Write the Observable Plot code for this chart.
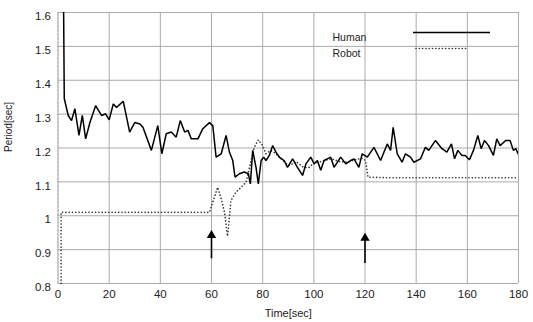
<!DOCTYPE html>
<html>
<head>
<meta charset="utf-8">
<script src="https://cdn.jsdelivr.net/npm/d3@7"></script>
<script src="https://cdn.jsdelivr.net/npm/@observablehq/plot@0.6"></script>
<style>
  html, body { margin: 0; padding: 0; background: #fff; }
  #chart { position: relative; width: 533px; height: 322px; }
  svg { font-family: "Liberation Sans", Arial, Helvetica, sans-serif; }
</style>
</head>
<body>
<div id="chart"></div>
<script>
// ---- data ----
const humanTime = [2.2, 2.45, 4.0, 5.3, 6.6, 8.2, 9.5, 10.8, 12.5, 14.7, 17.0, 18.6, 20.0, 21.6, 22.9, 25.5, 26.8, 28.0, 30.0, 32.0, 33.2, 36.5, 39.0, 40.6, 42.3, 44.3, 46.2, 47.8, 49.5, 50.8, 52.1, 54.7, 56.6, 59.2, 60.5, 61.8, 63.8, 65.7, 67.0, 68.3, 69.2, 70.9, 72.8, 74.4, 75.2, 76.1, 77.4, 78.3, 79.4, 80.4, 81.3, 82.6, 83.9, 85.2, 86.5, 88.4, 89.7, 91.7, 93.6, 95.6, 96.9, 98.8, 100.1, 101.4, 102.7, 104.0, 105.3, 106.6, 107.9, 110.5, 112.5, 114.4, 115.7, 117.6, 118.9, 120.9, 123.5, 126.1, 128.7, 130.0, 131.0, 132.6, 134.5, 135.8, 137.8, 139.1, 141.7, 143.6, 144.9, 147.5, 150.1, 152.0, 153.8, 155.0, 156.3, 157.9, 159.2, 160.8, 162.4, 164.1, 165.4, 166.7, 168.3, 170.2, 171.5, 172.8, 175.0, 176.7, 178.0, 179.0, 179.8];
const humanPeriod = [1.60, 1.346, 1.296, 1.281, 1.316, 1.237, 1.296, 1.227, 1.276, 1.325, 1.296, 1.301, 1.283, 1.330, 1.320, 1.338, 1.291, 1.247, 1.275, 1.271, 1.261, 1.193, 1.266, 1.183, 1.242, 1.247, 1.232, 1.281, 1.247, 1.252, 1.227, 1.227, 1.257, 1.275, 1.266, 1.173, 1.183, 1.237, 1.188, 1.163, 1.114, 1.124, 1.129, 1.124, 1.094, 1.193, 1.143, 1.094, 1.163, 1.173, 1.163, 1.178, 1.207, 1.188, 1.173, 1.163, 1.143, 1.168, 1.143, 1.119, 1.153, 1.173, 1.153, 1.163, 1.134, 1.163, 1.168, 1.173, 1.143, 1.173, 1.153, 1.163, 1.168, 1.143, 1.183, 1.173, 1.202, 1.163, 1.212, 1.193, 1.261, 1.183, 1.158, 1.183, 1.173, 1.158, 1.168, 1.202, 1.193, 1.222, 1.198, 1.188, 1.212, 1.168, 1.193, 1.178, 1.178, 1.165, 1.193, 1.237, 1.198, 1.222, 1.207, 1.178, 1.227, 1.207, 1.222, 1.222, 1.193, 1.198, 1.183];

const robotTime = [1.2, 1.2, 20, 40, 59.2, 62.4, 63.8, 65.1, 66.1, 66.3, 67.6, 69.6, 71.6, 73.5, 75.5, 76.7, 78.3, 80.0, 81.3, 83.2, 85.2, 87, 89, 90.5, 93, 96, 98, 100, 103, 105, 107, 110, 113, 116, 119, 120.2, 121.2, 130, 140, 150, 160, 170, 179.5];
const robotPeriod = [0.80, 1.010, 1.010, 1.010, 1.010, 1.084, 1.050, 1.010, 0.947, 0.940, 1.045, 1.070, 1.084, 1.099, 1.163, 1.202, 1.224, 1.207, 1.183, 1.193, 1.183, 1.170, 1.155, 1.148, 1.160, 1.143, 1.142, 1.155, 1.160, 1.165, 1.168, 1.160, 1.158, 1.165, 1.170, 1.163, 1.114, 1.112, 1.112, 1.112, 1.112, 1.112, 1.112];

const arrowTime = [60, 120];
const arrowBase = [0.873, 0.859];
const arrowTip = [0.945, 0.937];

const xTicks = [0, 20, 40, 60, 80, 100, 120, 140, 160, 180];
const yTicks = [0.8, 0.9, 1.0, 1.1, 1.2, 1.3, 1.4, 1.5, 1.6];
const seriesNames = ["Human", "Robot"];

// ---- tables ----
const human = humanTime.map((t, i) => ({t, v: humanPeriod[i]}));
const robot = robotTime.map((t, i) => ({t, v: robotPeriod[i]}));
const arrows = arrowTime.map((t, i) => ({t, y1: arrowBase[i], y2: arrowTip[i]}));

const W = 533, H = 322;
const mL = 57.5, mR = 15, mT = 12, mB = 39;
const fmt = d => String(+d.toFixed(1));
const dotStyle = {stroke: "#333", strokeWidth: 1.6, strokeDasharray: "0.1,3.2", strokeLinecap: "round"};

const chart = Plot.plot({
  width: W,
  height: H,
  marginLeft: mL,
  marginRight: mR,
  marginTop: mT,
  marginBottom: mB,
  style: {fontFamily: '"Liberation Sans", Arial, sans-serif', fontSize: "11px", background: "#fff", color: "#222"},
  x: {domain: [0, 180]},
  y: {domain: [0.8, 1.6]},
  marks: [
    Plot.frame({stroke: "#aaa", strokeDasharray: "2,2"}),
    Plot.axisX(xTicks, {tickSize: 0, tickPadding: 6, fontSize: 11.5, label: null, tickFormat: d => String(d)}),
    Plot.axisY(yTicks, {tickSize: 0, tickPadding: 7, dy: 4, fontSize: 11.5, label: null, tickFormat: fmt}),
    Plot.tickX(xTicks, {x: d => d, y1: 1.6, y2: 1.59, stroke: "#aaa"}),
    Plot.tickY(yTicks, {y: d => d, x1: 179, x2: 180, stroke: "#aaa"}),
    Plot.line(robot, {x: "t", y: "v", ...dotStyle}),
    Plot.line(human, {x: "t", y: "v", stroke: "#000", strokeWidth: 1.5, strokeLinejoin: "miter", clip: true}),
    Plot.ruleX(arrows, {x: "t", y1: "y1", y2: "y2", stroke: "#000", strokeWidth: 1.6}),
    Plot.dot(arrows, {x: "t", y: "y2", symbol: "triangle", r: 3.5, fill: "#000", stroke: "none", dy: 1}),
    Plot.text(["Time[sec]"], {frameAnchor: "bottom", dy: 33, fontSize: 11, text: d => d}),
    Plot.text(["Period[sec]"], {frameAnchor: "left", dx: -49, dy: 4, rotate: -90, fontSize: 10, text: d => d}),
    Plot.text([seriesNames[0]], {frameAnchor: "top-left", dx: 274.5, dy: 21, textAnchor: "start", fontSize: 10.5, text: d => d}),
    Plot.text([seriesNames[1]], {frameAnchor: "top-left", dx: 274.5, dy: 37, textAnchor: "start", fontSize: 10.5, text: d => d})
  ]
});

// legend line samples
const ns = "http://www.w3.org/2000/svg";
function seg(x1, x2, y, attrs) {
  const l = document.createElementNS(ns, "line");
  l.setAttribute("x1", x1); l.setAttribute("x2", x2);
  l.setAttribute("y1", y); l.setAttribute("y2", y);
  for (const k in attrs) l.setAttribute(k, attrs[k]);
  chart.appendChild(l);
}
seg(413, 490, 32.5, {stroke: "#000", "stroke-width": 1.6});
seg(416, 468, 48.5, {stroke: "#333", "stroke-width": 1.6, "stroke-dasharray": "0.1,3.2", "stroke-linecap": "round"});

document.getElementById("chart").appendChild(chart);
</script>
</body>
</html>
